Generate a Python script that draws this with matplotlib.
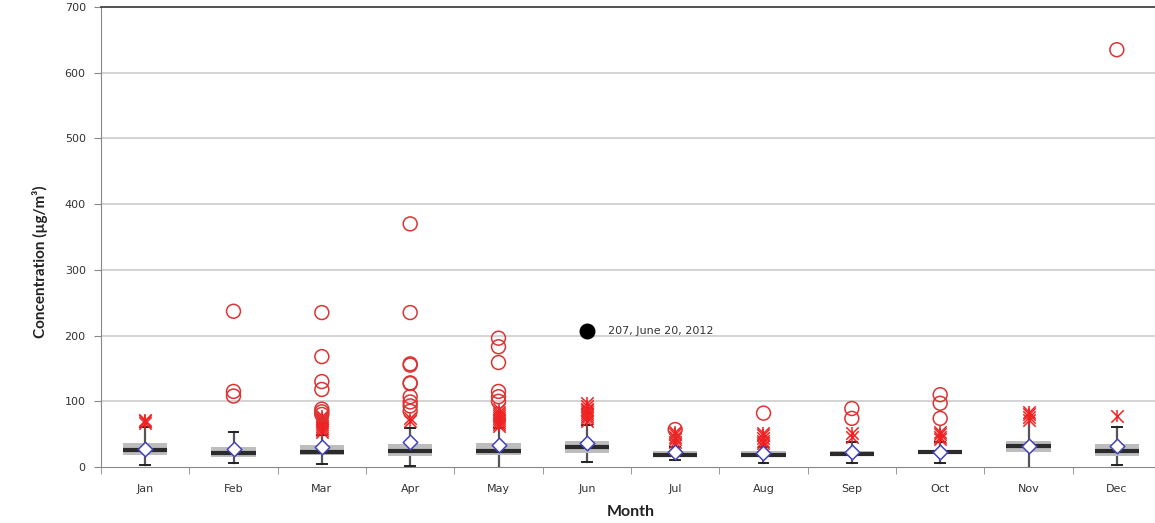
import matplotlib
matplotlib.use("Agg")
import matplotlib.pyplot as plt
import numpy as np

months = ["Jan", "Feb", "Mar", "Apr", "May", "Jun", "Jul", "Aug", "Sep", "Oct", "Nov", "Dec"]
q1 = [18, 15, 18, 16, 18, 22, 15, 15, 17, 21, 23, 17]
median = [26, 22, 23, 25, 25, 30, 18, 18, 20, 23, 32, 25]
q3 = [37, 31, 33, 35, 36, 40, 24, 24, 24, 26, 40, 35]
mean = [27, 27, 31, 38, 33, 37, 23, 21, 23, 23, 32, 32]
whisker_low = [3, 6, 5, 1, 0, 8, 11, 6, 6, 6, 0, 3]
whisker_high = [61, 54, 49, 59, 59, 64, 31, 30, 38, 38, 69, 61]

# mild outliers (star markers)
mild = [
    [67, 70, 72],
    [],
    [53, 56, 59, 62, 65, 68, 71, 75, 78],
    [70, 75],
    [62, 65, 68, 71, 74, 77, 80, 84, 88],
    [70, 74, 77, 80, 83, 86, 89, 93, 97],
    [34, 38, 42, 46, 50, 54],
    [32, 36, 40, 44, 48, 52],
    [45, 51],
    [42, 46, 50, 54],
    [72, 76, 80, 84],
    [77],
]
# extreme outliers (open circles)
extreme = [
    [],
    [108, 115, 237],
    [80, 84, 88, 118, 130, 168, 235],
    [85, 93, 99, 107, 127, 128, 155, 157, 235, 370],
    [100, 107, 115, 159, 183, 196],
    [],
    [57],
    [82],
    [74, 89],
    [74, 97, 110],
    [],
    [635],
]
event_month = "Jun"
event_value = 207
event_label = "207, June 20, 2012"

yticks = [0, 100, 200, 300, 400, 500, 600, 700]

fig = plt.figure(figsize=(11.55, 5.23), dpi=100)
ax = fig.add_axes([101 / 1155, 1 - 467 / 523, 1060 / 1155, 460 / 523])

x = np.arange(len(months))
bw = 0.5
cap = 0.055
no_cap_low = {"May", "Nov"}
no_cap_high = {"Nov"}

for yt in yticks[1:-1]:
    ax.axhline(yt, color="#c8c8c8", lw=1.1, zorder=0)

for i, m in enumerate(months):
    ax.add_patch(plt.Rectangle((i - bw / 2, q1[i]), bw, q3[i] - q1[i],
                               facecolor="#bdbdbd", edgecolor="none", zorder=2))
    ax.plot([i, i], [whisker_low[i], q1[i]], color="#555555", lw=1.6, zorder=1.5)
    ax.plot([i, i], [q3[i], whisker_high[i]], color="#555555", lw=1.6, zorder=1.5)
    if m not in no_cap_low:
        ax.plot([i - cap, i + cap], [whisker_low[i]] * 2, color="#222222", lw=1.4, zorder=3)
    if m not in no_cap_high:
        ax.plot([i - cap, i + cap], [whisker_high[i]] * 2, color="#222222", lw=1.4, zorder=3)
    ax.plot([i - bw / 2, i + bw / 2], [median[i]] * 2, color="#2b2b2b", lw=3, zorder=3,
            solid_capstyle="butt")
    if mild[i]:
        ax.scatter([i] * len(mild[i]), mild[i], marker="x", s=80, color="#ee2222",
                   linewidths=1.1, zorder=4)
        ax.scatter([i] * len(mild[i]), mild[i], marker="|", s=80, color="#ee2222",
                   linewidths=1.1, zorder=4)
    if extreme[i]:
        ax.scatter([i] * len(extreme[i]), extreme[i], marker="o", s=100,
                   facecolors="none", edgecolors="#dd3333", linewidths=1.1, zorder=4)

ax.scatter(x, mean, marker="D", s=55, facecolors="white", edgecolors="#4444bb",
           linewidths=1.1, zorder=5)

ei = months.index(event_month)
ax.scatter([ei], [event_value], marker="o", s=110, color="black", zorder=6)
ax.annotate(event_label, (ei, event_value), xytext=(15, 0), textcoords="offset points",
            va="center", ha="left", fontsize=8, color="#333333", family="DejaVu Sans")

ax.set_xlim(-0.5, len(months) - 0.5)
ax.set_ylim(0, 700)
ax.set_yticks(yticks)
ax.set_xticks(x)
ax.set_xticklabels(months)
ax.set_xticks(np.arange(-0.5, len(months), 1), minor=True)
ax.tick_params(axis="x", which="major", length=0, pad=12, labelsize=8, labelcolor="#333333")
ax.tick_params(axis="x", which="minor", length=5, color="#888888", direction="out")
ax.tick_params(axis="y", length=5, color="#888888", labelsize=8, labelcolor="#333333", pad=6)

for s in ["left", "bottom"]:
    ax.spines[s].set_color("#888888")
ax.spines["top"].set_color("#333333")
ax.spines["top"].set_linewidth(1.2)
ax.spines["right"].set_visible(False)

fig.text(40 / 1155, 1 - 262 / 523, "Concentration (µg/m³)", rotation=90, ha="center",
         va="center", fontsize=11, fontweight="bold", family="Lato", color="#222222")
fig.text(631 / 1155, 1 - 512 / 523, "Month", ha="center", va="center", fontsize=11.5,
         fontweight="bold", family="Lato", color="#222222")

fig.savefig("out.png", dpi=100)
